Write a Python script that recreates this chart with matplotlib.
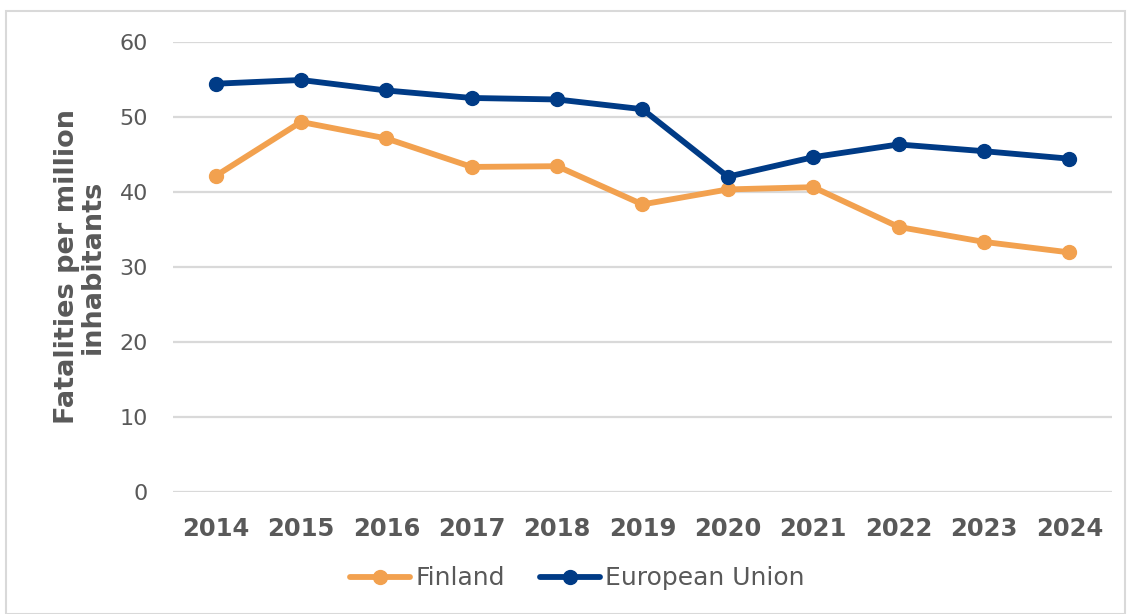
import matplotlib
matplotlib.use("Agg")
import matplotlib.pyplot as plt
from matplotlib.patches import Rectangle

years = ["2014", "2015", "2016", "2017", "2018", "2019", "2020", "2021", "2022", "2023", "2024"]
finland = [42.1, 49.3, 47.1, 43.3, 43.4, 38.3, 40.3, 40.6, 35.3, 33.3, 31.9]
eu = [54.4, 54.9, 53.5, 52.5, 52.3, 51.0, 42.0, 44.6, 46.3, 45.4, 44.4]
yticks = [0, 10, 20, 30, 40, 50, 60]

c_fin = "#F2A14F"
c_eu = "#003B86"
c_txt = "#595959"

plt.rcParams['font.family'] = ['DejaVu Sans']

fig = plt.figure(figsize=(11.32, 6.14), dpi=100)
ax = fig.add_axes([0.1528, 0.1995, 0.8295, 0.7325])

x = list(range(len(years)))
ax.plot(x, finland, color=c_fin, lw=4.2, marker='o', ms=10, label="Finland", solid_capstyle='round')
ax.plot(x, eu, color=c_eu, lw=4.2, marker='o', ms=10, label="European Union", solid_capstyle='round')

ax.set_xlim(-0.5, len(years) - 0.5)
ax.set_ylim(0, 60)
ax.set_yticks(yticks)
ax.set_yticklabels([str(v) for v in yticks], fontsize=16, color=c_txt)
ax.set_xticks(x)
ax.set_xticklabels(years, fontsize=17.5, fontweight='bold', color=c_txt)
ax.tick_params(axis='both', length=0)
ax.tick_params(axis='y', pad=18)
ax.tick_params(axis='x', pad=18)
ax.grid(axis='y', color='#D9D9D9', lw=1.6)
ax.set_axisbelow(True)
for s in ax.spines.values():
    s.set_visible(False)

ax.set_ylabel("Fatalities per million\ninhabitants", fontsize=19.5, fontweight='bold',
              color=c_txt, labelpad=10, linespacing=1.0)

leg = fig.legend(loc='center', bbox_to_anchor=(0.51, 0.058), ncol=2, frameon=False,
                 fontsize=18, handlelength=2.4, handletextpad=0.2, columnspacing=1.4)
for t in leg.get_texts():
    t.set_color(c_txt)

fig.patches.append(Rectangle((6 / 1132, 0.0), 1119 / 1132, 1 - 11 / 614, transform=fig.transFigure,
                             fill=False, edgecolor='#D9D9D9', lw=1.5))

fig.savefig("out.png", dpi=100)
